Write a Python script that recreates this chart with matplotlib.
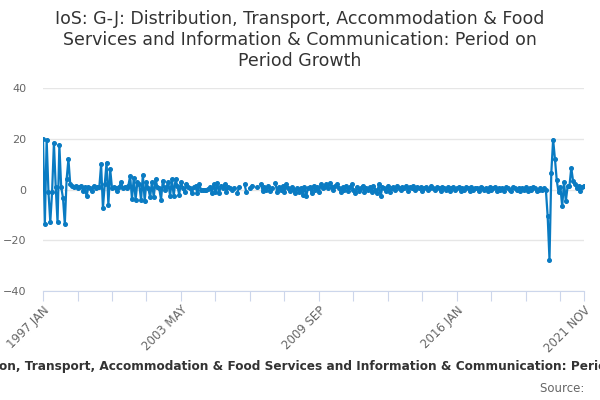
import numpy as np
import matplotlib
matplotlib.use("Agg")
import matplotlib.pyplot as plt

nan = np.nan

# Period on period growth (%), one row per year, JAN..DEC
y1997 = [20, -13.7, 19.6, -1, -12.8, -1, 18.4, 1, -13, 17.5, 1, -3.3]
y1998 = [-13.6, 4, 11.9, 2, 1.5, 1, 1.2, 0.5, 0.8, 1.5, -0.5, 1]
y1999 = [-2.6, 1, 0.5, -0.5, 1.5, 0.5, 1, 0.8, 9.9, -7.3, 2, 10.6]
y2000 = [-6, 8, 0.5, 1, 0.5, -0.5, 1, 2.9, 0.5, 1, 0.5, 1.5]
y2001 = [5.3, -3.7, 4.6, -4, 3, 2, -4.1, 5.7, -4.4, 3, 0.5, -3]
y2002 = [3, -3, 4, 1, 0.5, -4, 3.5, 0, 1, 3, -2.5, 4]
y2003 = [-2.6, 4, 1.5, -2, 3, 0.5, -1, 2, 1, 0.5, -1.5, 1]
y2004 = [1.5, -1.5, 2, 0, 0, 0, 0, 0.3, 1, -1.5, 2, -1]
y2005 = [2.5, -1.5, 1.5, 0.5, 2, -1, 1, 0.5, 0, 0.5, nan, -1.5]
y2006 = [1, nan, nan, 2, -1, nan, 0.5, 1.5, nan, nan, 1, nan]
y2007 = [2, -0.5, 1, 0, 1.5, -0.5, 0.5, nan, 2.5, -1, 1, 0]
y2008 = [1.5, -1, 2, 0.5, -0.5, 1, 0, -1.5, 0.5, -1, 0.5, -2]
y2009 = [1, -2.5, 0.5, 1, -1.5, 1.5, 0, 1, -1, 2, 0.5, 1]
y2010 = [2, 0.5, 2.5, 1, 0, 1.5, 2, 0.5, -1, 1, 0, 1.5]
y2011 = [-0.5, 1, 2, 0, -1.5, 1, -0.5, 0.5, 1.5, -1, 0.5, 0]
y2012 = [1, -1, 1.5, 0, -1.5, 2, -2.5, 1, 0.5, -0.5, 1.5, -1]
y2013 = [0.5, 1, 0, 1.5, 0.5, 0, 1, 0.5, 1.5, -0.5, 1, 0.5]
y2014 = [1.5, 0, 1, 0.5, 1, -0.5, 0.5, 1, 0, 0.5, 1.5, 0.5]
y2015 = [0, 1, 0.5, -0.5, 1, 0.5, 0, 1, -0.5, 0.5, 1, 0]
y2016 = [0.5, 1, -0.5, 0.5, 0, 1, 0.5, -0.5, 1, 0, 0.5, 0.5]
y2017 = [-0.5, 1, 0.5, 0, 0.5, -0.5, 1, 0, 0.5, 1, -0.5, 0.5]
y2018 = [0, 0.5, -0.5, 1, 0.5, 0, -0.5, 1, 0.5, 0, 0.5, -0.5]
y2019 = [0.5, 0, 1, -0.5, 0.5, 0, 1, 0.5, -0.5, 0, 0.5, 0]
y2020 = [0.5, 0, -10.6, -27.7, 6.6, 19.7, 12.1, 3.6, -1.1, 1, -6.6, 2.9]
y2021 = [-4.6, 1.3, 1.5, 8.5, 3.3, 2, 0.7, 1.5, -0.4, 1, 1.5]

growth = (y1997 + y1998 + y1999 + y2000 + y2001 + y2002 + y2003 + y2004
          + y2005 + y2006 + y2007 + y2008 + y2009 + y2010 + y2011 + y2012
          + y2013 + y2014 + y2015 + y2016 + y2017 + y2018 + y2019 + y2020
          + y2021)

months = ["JAN", "FEB", "MAR", "APR", "MAY", "JUN",
          "JUL", "AUG", "SEP", "OCT", "NOV", "DEC"]
labels = [f"{1997 + i // 12} {months[i % 12]}" for i in range(len(growth))]

title = ("IoS: G-J: Distribution, Transport, Accommodation & Food Services "
         "and Information & Communication: Period on Period Growth")

x = np.arange(len(growth))
y = np.array(growth, dtype=float)

fig = plt.figure(figsize=(6, 4), dpi=100)
ax = fig.add_axes([0.0717, 0.2725, 0.9016, 0.5075])

ax.plot(x, y, color="#0a7bc2", lw=1.6, marker="o", ms=2.6, zorder=3)

ax.set_xlim(0, len(growth) - 1)
ax.set_ylim(-40, 40)
ax.set_yticks([-40, -20, 0, 20, 40])
ax.yaxis.grid(True, color="#e6e6e6", lw=1)
ax.set_axisbelow(True)

# ticks every 19 months, labels on every 4th, plus the last month
tick_pos = list(range(0, len(growth) - 1, 19)) + [len(growth) - 1]
ax.set_xticks(tick_pos)
ax.set_xticklabels([labels[p] if (p % 76 == 0 or p == len(growth) - 1) else ""
                    for p in tick_pos],
                   rotation=45, ha="right", rotation_mode="anchor")

for s in ["left", "right", "top"]:
    ax.spines[s].set_visible(False)
ax.spines["bottom"].set_color("#ccd6eb")
ax.tick_params(axis="x", length=7, color="#ccd6eb", labelsize=8.5,
               labelcolor="#666666", pad=2)
ax.tick_params(axis="y", length=0, labelsize=8, labelcolor="#666666", pad=12)

fig.suptitle("IoS: G-J: Distribution, Transport, Accommodation & Food\n"
             "Services and Information & Communication: Period on\n"
             "Period Growth", y=0.975, fontsize=12.5, color="#333333",
             linespacing=1.2)

fig.text(0.512, 0.083, title, ha="center", va="center", fontsize=8.7,
         fontweight="bold", color="#333333")
fig.text(0.98, 0.028, "Source: ", ha="right", va="center", fontsize=8.5,
         color="#666666")

fig.savefig("out.png", dpi=100)
